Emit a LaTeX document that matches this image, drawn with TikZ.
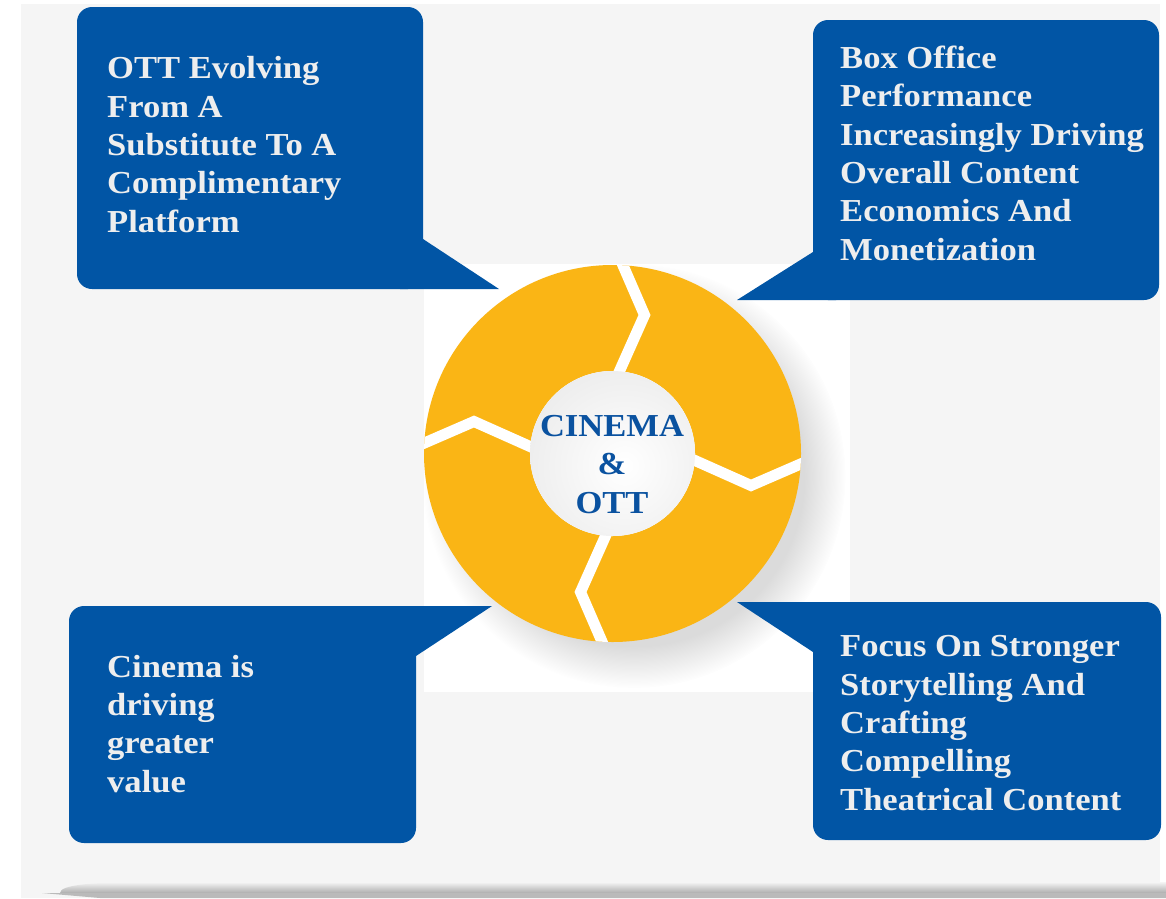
\documentclass[tikz,border=0pt]{standalone}
\usepackage{fontspec}
\setmainfont[FakeStretch=1.08]{Liberation Serif}
\usetikzlibrary{fadings}
\definecolor{bgray}{HTML}{F5F5F5}
\definecolor{cblue}{RGB}{1,85,165}
\definecolor{ctext}{HTML}{EEEEEE}
\definecolor{ringc}{RGB}{250,181,21}
\definecolor{ctrblue}{RGB}{10,82,160}
\tikzset{
  callout/.style={fill=cblue},
  calltext/.style={text=ctext, align=left, inner sep=0pt, anchor=base west,
     font=\fontsize{32}{38.3}\selectfont\bfseries},
  centertext/.style={text=ctrblue, align=center, inner sep=0pt, anchor=base,
     font=\fontsize{32}{38.3}\selectfont\bfseries},
  gapline/.style={draw=white, line width=11pt, line join=miter}
}
\begin{document}
\begin{tikzpicture}[x=1pt,y=-1pt]
\useasboundingbox (0,0) rectangle (1166,898);
\fill[white] (0,0) rectangle (1166,898);
\fill[bgray] (21,4) rectangle (1160,898);
% bottom page shadow
\shade[top color=bgray, bottom color=black!32]
  (60,893) .. controls (60,885) and (90,882) .. (150,882) -- (1166,882) -- (1166,893) -- cycle;
\fill[black!27] (42,893) -- (1166,893) -- (1166,898) -- (100,898) -- cycle;
% white panel behind ring
\fill[white] (424,264) rectangle (850,692);
\coordinate (c) at (612.5,453.5);
\begin{scope}
  \clip (424,264) rectangle (850,692);
  \fill[black, opacity=0.14, path fading=circle with fuzzy edge 20 percent] (634,476) circle (212);
\end{scope}
% ring
\fill[ringc, even odd rule] (c) circle (188.5) (c) circle (82.5);
\begin{scope}
  \clip (c) circle (188.5);
  \begin{scope}[shift={(c)}]
    \draw[gapline] (7.5,-195) -- (32,-138.5) -- (5,-78);
    \draw[gapline] (195,7.5) -- (138.5,32) -- (78,5);
    \draw[gapline] (-7.5,195) -- (-32,138.5) -- (-5,78);
    \draw[gapline] (-195,-7.5) -- (-138.5,-32) -- (-78,-5);
  \end{scope}
\end{scope}
\fill[white] (c) circle (82.5);
\begin{scope}
  \clip (c) circle (82.5);
  \shade[inner color=white, outer color=black!7] ([shift={(12,12)}]c) circle (100);
\end{scope}
% callouts
\fill[callout, rounded corners=15] (77,7) rectangle (423,289);
\fill[callout] (400,239) -- (423,239) -- (499,289) -- (400,289) -- cycle;
\fill[callout, rounded corners=15] (813,20) rectangle (1159,300);
\fill[callout] (737,300) -- (813,252) -- (836,252) -- (836,300) -- cycle;
\fill[callout, rounded corners=15] (69,606) rectangle (416,843);
\fill[callout] (393,606) -- (492,606) -- (416,656) -- (393,656) -- cycle;
\fill[callout, rounded corners=15] (813,602) rectangle (1161,840);
\fill[callout] (737,602) -- (836,602) -- (836,652) -- (813,652) -- cycle;
% texts (anchor = baseline of last line)
\node[calltext] (t1) at (107,232) {OTT Evolving\\From A\\Substitute To A\\Complimentary\\Platform};
\node[calltext] (t2) at (840,260) {Box Office\\Performance\\Increasingly Driving\\Overall Content\\Economics And\\Monetization};
\node[calltext] (t3) at (107,792) {Cinema is\\driving\\greater\\value};
\node[calltext] (t4) at (840,810) {Focus On Stronger\\Storytelling And\\Crafting\\Compelling\\Theatrical Content};
\node[centertext] (ctr) at (612,513) {CINEMA\\\&\\OTT};
\end{tikzpicture}
\end{document}
